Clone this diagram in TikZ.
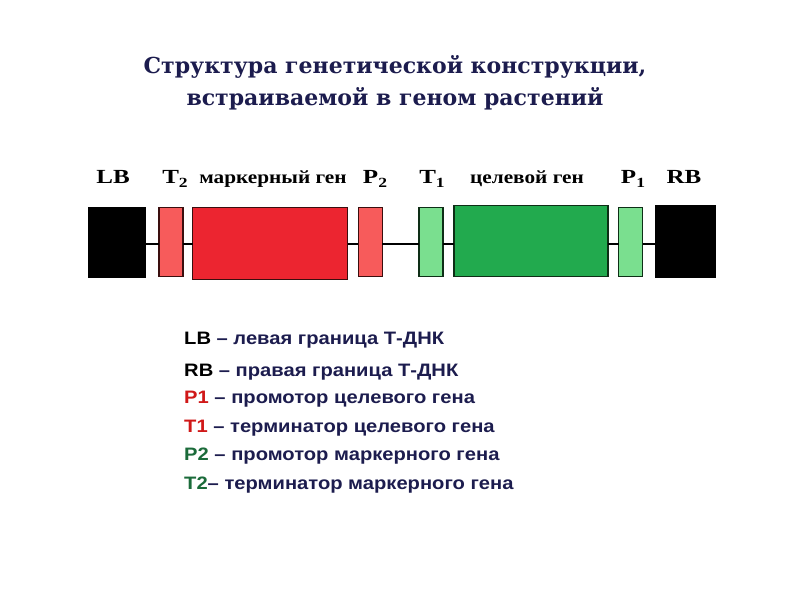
\documentclass[tikz,border=0pt]{standalone}
\usepackage{fontspec}
\setmainfont{Liberation Serif}
\newfontfamily\titlefont{DejaVu Serif}
\newfontfamily\legfont[FakeStretch=1.12]{Liberation Sans}
\newfontfamily\labfont[FakeStretch=1.25]{Liberation Serif}
\newfontfamily\glabfont[FakeStretch=1.15]{Liberation Serif}
\newcommand{\lsub}[1]{\raisebox{-4pt}{\fontsize{14}{14}\selectfont #1}}
\definecolor{navy}{HTML}{1C1C4E}
\definecolor{lred}{HTML}{F75B5B}
\definecolor{mred}{HTML}{EC2530}
\definecolor{lgreen}{HTML}{7ADF8F}
\definecolor{mgreen}{HTML}{22AA4E}
\definecolor{tred}{HTML}{D01818}
\definecolor{tgreen}{HTML}{1B6B3A}
\definecolor{bred}{HTML}{3A0E0E}
\definecolor{bgreen}{HTML}{0E2E16}
\tikzset{
  gbox/.style={draw, line width=1.5pt, inner sep=0pt, outer sep=0pt},
  border/.style={fill=black, draw=black, inner sep=0pt, outer sep=0pt},
  lab/.style={font=\labfont\bfseries\fontsize{20}{22}\selectfont, inner sep=0pt, anchor=base},
  glab/.style={font=\glabfont\bfseries\fontsize{18.5}{20}\selectfont, inner sep=0pt, anchor=base},
  leg/.style={font=\legfont\bfseries\fontsize{18}{20}\selectfont, text=navy, inner sep=0pt, anchor=base west},
  ttl/.style={font=\titlefont\bfseries\fontsize{22}{24}\selectfont, text=navy, inner sep=0pt, anchor=base},
}
\begin{document}
\begin{tikzpicture}[x=1pt,y=-1pt]
\useasboundingbox[fill=white] (0,0) rectangle (794,595);
% title
\node[ttl] (t1) at (395,73) {Структура генетической конструкции,};
\node[ttl] (t2) at (395,105) {встраиваемой в геном растений};
% boxes
\node[border, minimum width=57pt, minimum height=70pt] (LB) at (116.5,242.5) {};
\node[gbox, draw=bred, fill=lred, minimum width=24pt, minimum height=69pt] (T2) at (170.8,242) {};
\node[gbox, draw=bred, fill=mred, minimum width=155pt, minimum height=72pt] (MG) at (270,243.3) {};
\node[gbox, draw=bred, fill=lred, minimum width=24pt, minimum height=69pt] (P2) at (370.3,242) {};
\node[gbox, draw=bgreen, fill=lgreen, minimum width=24pt, minimum height=69pt] (T1) at (430.8,242) {};
\node[gbox, draw=bgreen, fill=mgreen, minimum width=154pt, minimum height=71pt] (TG) at (530.8,241) {};
\node[gbox, draw=bgreen, fill=lgreen, minimum width=24pt, minimum height=69pt] (P1) at (630.5,242) {};
\node[border, minimum width=60pt, minimum height=72pt] (RB) at (685,241) {};
% backbone
\begin{scope}[line width=2.5pt]
\draw (LB.east |- 0,244) -- (T2.west |- 0,244);
\draw (T2.east |- 0,244) -- (MG.west |- 0,244);
\draw (MG.east |- 0,244) -- (P2.west |- 0,244);
\draw (P2.east |- 0,244) -- (T1.west |- 0,244);
\draw (T1.east |- 0,244) -- (TG.west |- 0,244);
\draw (TG.east |- 0,244) -- (P1.west |- 0,244);
\draw (P1.east |- 0,244) -- (RB.west |- 0,244);
\end{scope}
% labels above
\node[lab] (lLB) at (113,183) {LB};
\node[lab] (lT2) at (175,183) {T\lsub{2}};
\node[glab] (lMG) at (273,183) {маркерный ген};
\node[lab] (lP2) at (375,183) {P\lsub{2}};
\node[lab] (lT1) at (432,183) {T\lsub{1}};
\node[glab] (lTG) at (527,183) {целевой ген};
\node[lab] (lP1) at (633,183) {P\lsub{1}};
\node[lab] (lRB) at (684,183) {RB};
% legend
\node[leg] (g1) at (184,344.5) {\textcolor{black}{LB} – левая граница Т-ДНК};
\node[leg] (g2) at (184,376.5) {\textcolor{black}{RB} – правая граница Т-ДНК};
\node[leg] (g3) at (184,403.5) {\textcolor{tred}{P1} – промотор целевого гена};
\node[leg] (g4) at (184,432.5) {\textcolor{tred}{T1} – терминатор целевого гена};
\node[leg] (g5) at (184,460.5) {\textcolor{tgreen}{P2} – промотор маркерного гена};
\node[leg] (g6) at (184,489.5) {\textcolor{tgreen}{T2}– терминатор маркерного гена};
\end{tikzpicture}
\end{document}
